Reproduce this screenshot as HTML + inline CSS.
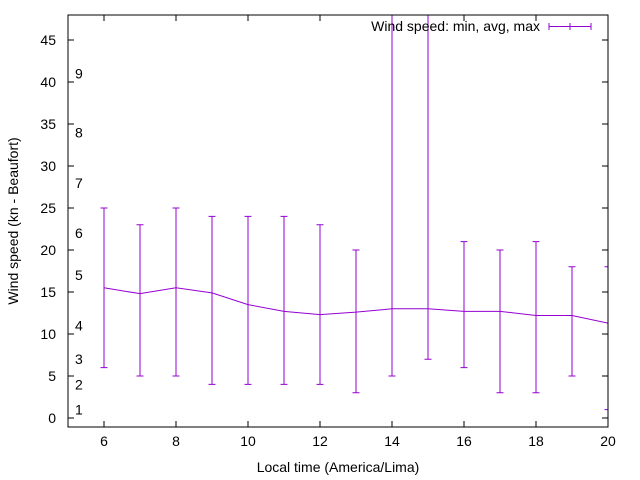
<!DOCTYPE html>
<html><head><meta charset="utf-8"><style>
body{margin:0;background:#fff}
svg{display:block;font-family:"Liberation Sans",sans-serif}
</style></head><body>
<svg id="chart" width="640" height="480">
<defs><clipPath id="pc"><rect x="68" y="15" width="540" height="412"/></clipPath></defs>
<g id="axes"></g>
<g id="series" clip-path="url(#pc)"></g>
<rect x="68" y="15" width="540" height="412" fill="none" stroke="#000" stroke-width="1"/>
<text x="540" y="31" text-anchor="end" font-size="14">Wind speed: min, avg, max</text>
<g stroke="#9400d3" stroke-width="1">
<line x1="549" y1="26.5" x2="591" y2="26.5"/><line x1="549" y1="23" x2="549" y2="30"/><line x1="591" y1="23" x2="591" y2="30"/><line x1="570" y1="23" x2="570" y2="30"/>
</g>
<text x="338" y="472" text-anchor="middle" font-size="14">Local time (America/Lima)</text>
<text transform="translate(18,221) rotate(-90)" text-anchor="middle" font-size="14">Wind speed (kn - Beaufort)</text>
</svg>
<script>
const hours=[6,7,8,9,10,11,12,13,14,15,16,17,18,19,20];
const avgSpeed=[15.5,14.8,15.5,14.9,13.5,12.7,12.3,12.6,13,13,12.7,12.7,12.2,12.2,11.3];
const minSpeed=[6,5,5,4,4,4,4,3,5,7,6,3,3,5,1];
const maxSpeed=[25,23,25,24,24,24,23,20,50,50,21,20,21,18,18];
const xTicks=[6,8,10,12,14,16,18,20];
const yTicks=[0,5,10,15,20,25,30,35,40,45];
const beaufortLabels=["1","2","3","4","5","6","7","8","9"];
const beaufortValues=[1,4,7,11,17,22,28,34,41];
const X=v=>68+(v-5)*36, Y=v=>418-v*8.4;
const NS="http://www.w3.org/2000/svg";
function mk(p,t,a){const e=document.createElementNS(NS,t);for(const k in a)e.setAttribute(k,a[k]);p.appendChild(e);return e;}
const ax=document.getElementById('axes'), se=document.getElementById('series');
xTicks.forEach(v=>{
 const l=mk(ax,'path',{d:`M${X(v)},427v-6M${X(v)},15v6`,stroke:'#000'});
 
 
 const t=mk(ax,'text',{x:X(v),y:446,'text-anchor':'middle','font-size':14});t.textContent=v;
 
 
});
yTicks.forEach(v=>{
 const l=mk(ax,'path',{d:`M68,${Y(v)}h6M608,${Y(v)}h-6`,stroke:'#000'});
 
 
 const t=mk(ax,'text',{x:56,y:Y(v)+5,'text-anchor':'end','font-size':14});t.textContent=v;
 
 
});
beaufortLabels.forEach((s,i)=>{
 const t=mk(ax,'text',{x:75,y:Y(beaufortValues[i])+5,'font-size':14});t.textContent=s;
 
 
});
const ln=mk(se,'polyline',{points:hours.map((h,i)=>X(h)+','+Y(avgSpeed[i])).join(' '),fill:'none',stroke:'#9400d3'});


hours.forEach((h,i)=>{
 const x=X(h),a=Y(minSpeed[i]),b=Y(maxSpeed[i]);
 const e=mk(se,'path',{d:`M${x},${a}V${b}M${x-3.5},${a}h7M${x-3.5},${b}h7`,stroke:'#9400d3',fill:'none'});
 
 
});
</script>
</body></html>
